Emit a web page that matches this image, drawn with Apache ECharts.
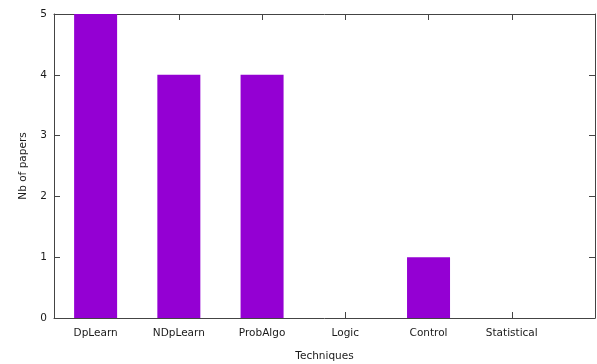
<!DOCTYPE html>
<html>
<head>
<meta charset="utf-8">
<style>
  html, body { margin: 0; padding: 0; background: #fff; }
  #chart { width: 597px; height: 364px; }
</style>
<script src="https://cdn.jsdelivr.net/npm/echarts@6/dist/echarts.min.js"></script>
</head>
<body>
<div id="chart"></div>
<script>
// Number of papers per technique family
const categories = ['DpLearn', 'NDpLearn', 'ProbAlgo', 'Logic', 'Control', 'Statistical'];
const papers = [5, 4, 4, 0, 1, 0];
const yTicks = [0, 1, 2, 3, 4, 5];

const positions = categories.map((_, i) => i);
const barData = papers.map((v, i) => [i, v]);

const FONT = 'DejaVu Sans';
const TEXT = '#1a1a1a';
const FRAME = '#444';

const chart = echarts.init(document.getElementById('chart'), null, { renderer: 'canvas' });

const xBase = {
  type: 'value',
  min: -0.5,
  max: 6,
  splitLine: { show: false },
  axisLine: { show: true, onZero: false, lineStyle: { color: FRAME, width: 1 } },
  axisTick: { show: true, inside: true, length: 6, customValues: positions, lineStyle: { color: FRAME } }
};
const yBase = {
  type: 'value',
  min: yTicks[0],
  max: yTicks[yTicks.length - 1],
  interval: 1,
  splitLine: { show: false },
  axisLine: { show: true, onZero: false, lineStyle: { color: FRAME, width: 1 } },
  axisTick: { show: true, inside: true, length: 6, lineStyle: { color: FRAME } }
};

chart.setOption({
  animation: false,
  backgroundColor: '#fff',
  textStyle: { fontFamily: FONT },
  grid: { left: 54, right: 2, top: 14, bottom: 46, containLabel: false, outerBoundsMode: 'none' },
  xAxis: [
    Object.assign({}, xBase, {
      position: 'bottom',
      name: 'Techniques',
      nameLocation: 'middle',
      nameGap: 33,
      nameTextStyle: { fontFamily: FONT, fontSize: 10.5, color: TEXT },
      axisLabel: {
        show: true,
        customValues: positions,
        margin: 10,
        fontFamily: FONT,
        fontSize: 10.5,
        color: TEXT,
        formatter: v => categories[Math.round(v)] || ''
      }
    }),
    Object.assign({}, xBase, {
      position: 'top',
      axisLabel: { show: false }
    })
  ],
  yAxis: [
    Object.assign({}, yBase, {
      position: 'left',
      name: 'Nb of papers',
      nameLocation: 'middle',
      nameGap: 25,
      nameRotate: 90,
      nameTextStyle: { fontFamily: FONT, fontSize: 10.5, color: TEXT },
      axisLabel: { show: true, margin: 7, fontFamily: FONT, fontSize: 10.5, color: TEXT }
    }),
    Object.assign({}, yBase, {
      position: 'right',
      axisLabel: { show: false }
    })
  ],
  series: [{
    type: 'bar',
    xAxisIndex: 0,
    yAxisIndex: 0,
    data: barData,
    barWidth: 43,
    itemStyle: { color: '#9400D3' },
    z: 1
  }]
});
</script>
</body>
</html>
